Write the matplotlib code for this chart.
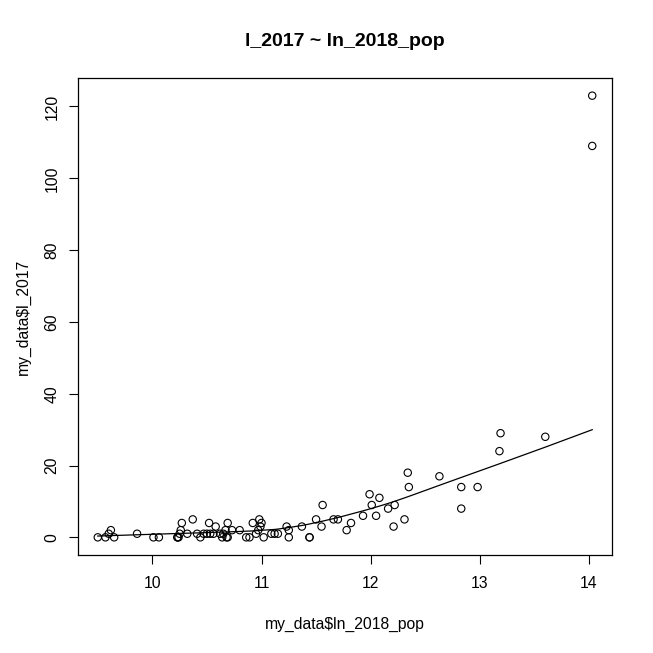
import matplotlib
matplotlib.use("Agg")
import matplotlib.pyplot as plt
import numpy as np

# values (x = ln_2018_pop, y = l_2017)
ln_2018_pop = [
    9.50, 9.57, 9.60, 9.62, 9.65, 9.86, 10.01, 10.06,
    10.23, 10.23, 10.24, 10.25, 10.27, 10.26, 10.32, 10.37, 10.41, 10.44,
    10.47, 10.50, 10.53, 10.56, 10.52, 10.58,
    10.62, 10.65, 10.64, 10.68, 10.69, 10.69, 10.67, 10.73, 10.80,
    10.86, 10.89, 10.92, 10.95, 10.98, 11.00, 10.99, 10.97, 11.02,
    11.09, 11.12, 11.15,
    11.23, 11.25, 11.25, 11.37, 11.44, 11.44, 11.50, 11.55, 11.56, 11.66,
    11.70, 11.78, 11.82, 11.93, 11.99, 12.01, 12.05, 12.08, 12.16, 12.22,
    12.21, 12.31, 12.34, 12.35, 12.63, 12.83, 12.83, 12.98, 13.18, 13.19,
    13.60, 14.03, 14.03,
]
l_2017 = [
    0, 0, 1, 2, 0, 1, 0, 0,
    0, 0, 0, 1, 4, 2, 1, 5, 1, 0,
    1, 1, 1, 1, 4, 3,
    1, 1, 0, 0, 0, 4, 2, 2, 2,
    0, 0, 4, 1, 5, 4, 3, 2, 0,
    1, 1, 1,
    3, 2, 0, 3, 0, 0, 5, 3, 9, 5,
    5, 2, 4, 6, 12, 9, 6, 11, 8, 9,
    3, 5, 18, 14, 17, 14, 8, 14, 24, 29,
    28, 109, 123,
]
x_ticks = [10, 11, 12, 13, 14]
y_ticks = [0, 20, 40, 60, 80, 100, 120]


def lowess(x, y, f=2/3, iters=3):
    # same idea as R's lowess(): local linear fit, tricube weights, bisquare robustness
    order = np.argsort(x, kind="mergesort")
    x = np.asarray(x, float)[order]
    y = np.asarray(y, float)[order]
    n = len(x)
    r = max(min(int(f * n + 1e-7), n), 2)
    fit = np.zeros(n)
    rob = np.ones(n)
    for it in range(iters + 1):
        for i in range(n):
            d = np.abs(x - x[i])
            h = np.sort(d)[r - 1]
            if h > 0:
                u = d / h
                w = np.where(u < 1, (1 - u ** 3) ** 3, 0.0)
            else:
                w = (d == 0).astype(float)
            w = w * rob
            sw = w.sum()
            xm = (w * x).sum() / sw
            ym = (w * y).sum() / sw
            sxx = (w * (x - xm) ** 2).sum()
            if sxx > 1e-12 * (x[-1] - x[0]) ** 2:
                b = (w * (x - xm) * (y - ym)).sum() / sxx
                fit[i] = ym + b * (x[i] - xm)
            else:
                fit[i] = ym
        if it == iters:
            break
        res = y - fit
        s = np.median(np.abs(res))
        if s == 0:
            break
        u = res / (6 * s)
        rob = np.where(np.abs(u) < 1, (1 - u ** 2) ** 2, 0.0)
    return x, fit


plt.rcParams["font.family"] = ["Liberation Sans", "DejaVu Sans"]

fig = plt.figure(figsize=(6.53, 6.53), dpi=100)
ax = fig.add_axes([78 / 653, 98 / 653, 534 / 653, 477 / 653])

ax.scatter(ln_2018_pop, l_2017, s=28, facecolors="none", edgecolors="black", linewidths=0.8)
lx, ly = lowess(ln_2018_pop, l_2017)
ax.plot(lx, ly, color="black", linewidth=0.9)

# R style 4% padding on both axes
x0, x1 = min(ln_2018_pop), max(ln_2018_pop)
y0, y1 = min(l_2017), max(l_2017)
ax.set_xlim(x0 - 0.04 * (x1 - x0), x1 + 0.04 * (x1 - x0))
ax.set_ylim(y0 - 0.04 * (y1 - y0), y1 + 0.04 * (y1 - y0))

ax.set_xticks(x_ticks)
ax.set_yticks(y_ticks)
ax.set_yticklabels([str(v) for v in y_ticks], rotation=90, va="center")
ax.tick_params(direction="out", length=6.5, width=0.8, labelsize=11.3, color="black")
ax.tick_params(axis="x", pad=8.5)
ax.tick_params(axis="y", pad=6.8)
for sp in ax.spines.values():
    sp.set_linewidth(0.9)

ax.set_xlabel("my_data$ln_2018_pop", fontsize=11.3, labelpad=19)
ax.set_ylabel("my_data$l_2017", fontsize=11.3, labelpad=10)
ax.set_title("l_2017 ~ ln_2018_pop", fontsize=14, fontweight="bold", pad=23)

fig.savefig("out.png", dpi=100)
